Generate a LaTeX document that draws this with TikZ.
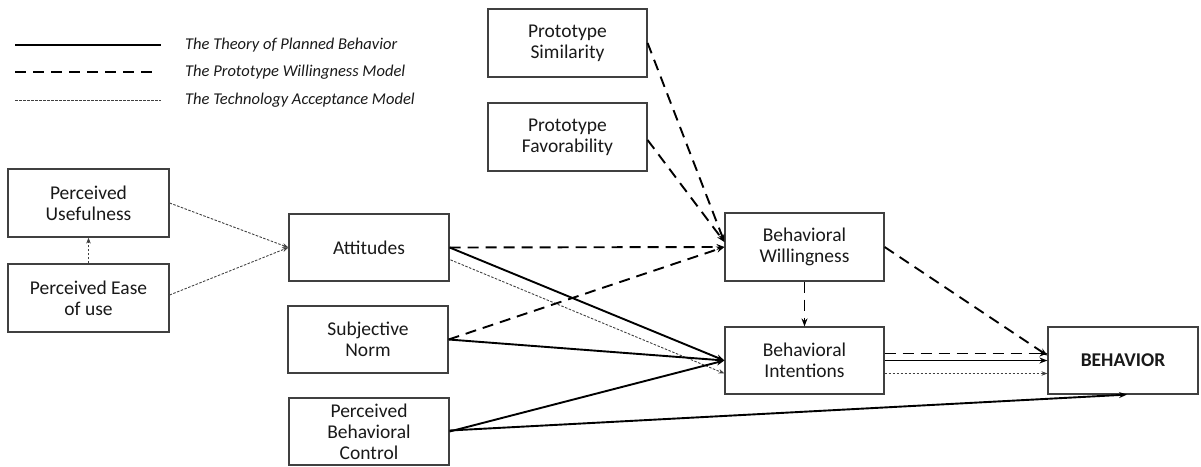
\documentclass[tikz,border=0pt]{standalone}
\usepackage{fontspec}
\setmainfont{Carlito}
\usetikzlibrary{arrows.meta}
\begin{document}
\begin{tikzpicture}[x=1pt,y=-1pt,
  box/.style={draw=black!75,line width=1.2pt,fill=white,inner sep=0pt,
    minimum width=160pt,minimum height=67pt,align=center,
    font=\fontsize{19.5}{21}\selectfont,text=black!90},
  tpb/.style={line width=1.9pt,-{Stealth[length=8pt,width=6pt]}},
  pwm/.style={line width=1.9pt,dash pattern=on 11pt off 7pt,-{Stealth[length=8pt,width=6pt]}},
  tam/.style={line width=0.9pt,black!75,dash pattern=on 2.5pt off 1.5pt,-{Stealth[length=6pt,width=4.5pt]}},
  legtext/.style={anchor=west,inner sep=0pt,font=\fontsize{16.5}{18}\selectfont\itshape,text=black!90}]
\useasboundingbox (0,0) rectangle (1201,466);

% legend
\coordinate (l1a) at (15,45);  \coordinate (l1b) at (161,45);
\coordinate (l2a) at (15,72);  \coordinate (l2b) at (156,72);
\coordinate (l3a) at (15,100); \coordinate (l3b) at (161,100);
\draw[line width=1.9pt] (l1a) -- (l1b);
\draw[line width=1.9pt,dash pattern=on 11pt off 7pt] (l2a) -- (l2b);
\draw[line width=0.9pt,black!75,dash pattern=on 2.5pt off 1.5pt] (l3a) -- (l3b);
\node[legtext] (t1) at (185,45) {The Theory of Planned Behavior};
\node[legtext] (t2) at (185,72) {The Prototype Willingness Model};
\node[legtext] (t3) at (185,100) {The Technology Acceptance Model};

% boxes
\node[box,minimum width=161pt,minimum height=68pt] (PU) at (88.5,203) {Perceived\\Usefulness};
\node[box,minimum width=161pt,minimum height=68pt] (PE) at (88.5,298) {Perceived Ease\\of use};
\node[box] (AT) at (369,247.5) {Attitudes};
\node[box] (SN) at (368,339.5) {Subjective\\Norm};
\node[box] (PBC) at (369,431.5) {Perceived\\Behavioral\\Control};
\node[box,minimum width=159pt,minimum height=68pt] (PS) at (567.5,43) {Prototype\\Similarity};
\node[box,minimum width=159pt,minimum height=68pt] (PF) at (567.5,137) {Prototype\\Favorability};
\node[box,minimum width=159pt,minimum height=68pt] (BW) at (804.5,247) {Behavioral\\Willingness};
\node[box,minimum width=159pt] (BI) at (804.5,360.5) {Behavioral\\Intentions};
\node[box,minimum width=150pt,font=\fontsize{19.5}{21}\selectfont\bfseries] (BE) at (1123,360.5) {BEHAVIOR};

% technology acceptance model paths
\draw[tam] (PU.east) -- (AT.west);
\draw[tam] ([yshift=3pt]PE.east) -- (AT.west);
\draw[tam] (PE.north) -- (PU.south);
\draw[tam,shorten <=1pt] ([yshift=-12pt]AT.east) -- ([yshift=-13pt]BI.west);
\draw[tam] ([yshift=-13pt]BI.east) -- ([yshift=-13pt]BE.west);

% theory of planned behavior paths
\draw[tpb] (AT.east) -- (BI.west);
\draw[tpb] (SN.east) -- (BI.west);
\draw[tpb] (PBC.east) -- (BI.west);
\draw[tpb] (BI.east) -- (BE.west);
\draw[tpb] ([yshift=1pt]PBC.east) -- ([xshift=4pt]BE.south);

% prototype willingness model paths
\draw[pwm] (PS.east) -- ([yshift=5pt]BW.west);
\draw[pwm] ([yshift=-3pt]PF.east) -- ([yshift=5pt]BW.west);
\draw[pwm] (AT.east) -- (BW.west);
\draw[pwm] (SN.east) -- (BW.west);
\draw[pwm] (BW.south) -- (BI.north);
\draw[pwm] (BW.east) -- ([yshift=5pt]BE.west);
\draw[pwm] ([yshift=7pt]BI.east) -- ([yshift=7pt]BE.west);
\end{tikzpicture}
\end{document}
